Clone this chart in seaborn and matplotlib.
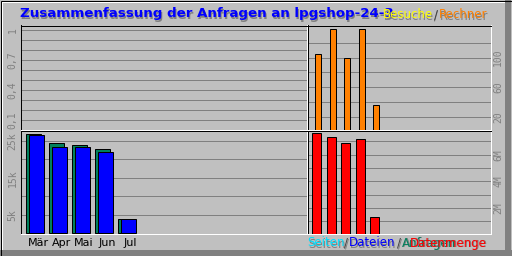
import numpy as np
import pandas as pd
import seaborn as sns
import matplotlib.pyplot as plt
from matplotlib.patches import Rectangle

# monthly summary values
months = ['Mär', 'Apr', 'Mai', 'Jun', 'Jul']
hits = [26970, 24460, 23920, 22840, 3920]           # Anfragen
files = [26620, 23380, 23380, 22030, 3920]          # Dateien
sites = [105, 139, 100, 139, 36]                    # Rechner
kbytes = [7600000, 7370000, 6850000, 7150000, 1370000]  # Datenmenge

# axis ticks (gridlines) and the labels that are shown
ul_ticks = [0.1, 0.2, 0.3, 0.4, 0.5, 0.6, 0.7, 0.8, 0.9, 1.0]
ul_labels = ['0,1', '', '', '0,4', '', '', '0,7', '', '', '1']
ur_ticks = [20, 40, 60, 80, 100, 120]
ur_labels = ['20', '', '60', '', '100', '']
ll_ticks = [5000, 10000, 15000, 20000, 25000]
ll_labels = ['5k', '', '15k', '', '25k']
lr_ticks = [1e6, 2e6, 3e6, 4e6, 5e6, 6e6, 7e6]
lr_labels = ['', '2M', '', '4M', '', '6M', '']

c_hit, c_file, c_page = '#00805c', '#0000ff', '#00e0ff'
c_site, c_visit, c_kb = '#ff8000', '#ffff00', '#ff0000'
bg_grey, dk_grey = '#c0c0c0', '#808080'
px = 0.72  # one pixel in points at dpi 100

fig = plt.figure(figsize=(5.12, 2.56), dpi=100)
fig.patch.set_facecolor(bg_grey)

# frame in pixel coordinates
bg = fig.add_axes([0, 0, 1, 1])
bg.set_xlim(0, 512)
bg.set_ylim(256, 0)
bg.axis('off')
bg.add_patch(Rectangle((505, 0), 6, 256, fc=dk_grey, ec='none'))
bg.add_patch(Rectangle((0, 250), 512, 6, fc=dk_grey, ec='none'))
bg.add_patch(Rectangle((1, 1), 2, 249, fc='white', ec='none'))
bg.add_patch(Rectangle((1, 1), 504, 2, fc='white', ec='none'))
bg.add_patch(Rectangle((0.5, 0.5), 511, 255, fill=False, ec='black', lw=px))


def panel(x0, y0, x1, y1):
    ax = fig.add_axes([x0 / 512, 1 - y1 / 256, (x1 - x0) / 512, (y1 - y0) / 256])
    ax.set_facecolor(bg_grey)
    for s in ['top', 'left']:
        ax.spines[s].set_color('black')
    for s in ['bottom', 'right']:
        ax.spines[s].set_color('white')
    for s in ax.spines.values():
        s.set_linewidth(px)
    ax.grid(axis='y', color=dk_grey, lw=px)
    ax.grid(axis='x', visible=False)
    ax.set_axisbelow(True)
    ax.tick_params(length=0)
    return ax


def yticks(ax, ticks, labels, right=False):
    if right:
        ax.yaxis.tick_right()
    ax.set_yticks(ticks)
    ax.set_yticklabels(labels, rotation=90, fontsize=7, color=dk_grey,
                       family='DejaVu Sans Mono', va='center')
    ax.tick_params(axis='y', length=0, pad=2)


idx = np.arange(len(months))
df = pd.DataFrame({'idx': idx, 'idx_f': idx + 0.13, 'hits': hits,
                   'files': files, 'sites': sites, 'kbytes': kbytes})
bar_kw = dict(native_scale=True, orient='x', saturation=1, edgecolor='black',
              linewidth=px, errorbar=None)

# upper left: empty
ax_ul = panel(20.5, 25.5, 306.5, 129.5)
ax_ul.set_ylim(0.0099, 1.0426)
ax_ul.set_xlim(0, 1)
ax_ul.set_xticks([])
yticks(ax_ul, ul_ticks, ul_labels)

# upper right: Rechner
ax_ur = panel(307.5, 25.5, 490.5, 129.5)
sns.barplot(data=df, x='idx', y='sites', color=c_site, width=0.414, ax=ax_ur, **bar_kw)
ax_ur.set_xlim(-0.745, 11.875)
ax_ur.set_ylim(2.84, 143.4)
ax_ur.set_xticks([])
ax_ur.set_xlabel('')
ax_ur.set_ylabel('')
yticks(ax_ur, ur_ticks, ur_labels, right=True)

# lower left: Anfragen / Dateien
ax_ll = panel(20.5, 130.5, 306.5, 233.5)
sns.barplot(data=df, x='idx', y='hits', color=c_hit, width=0.637, ax=ax_ll, **bar_kw)
sns.barplot(data=df, x='idx_f', y='files', color=c_file, width=0.637, ax=ax_ll, **bar_kw)
ax_ll.set_xlim(-0.557, 11.84)
ax_ll.set_ylim(-54, 27784)
ax_ll.set_xticks(idx + 0.2, months)
ax_ll.tick_params(axis='x', length=0, pad=3, labelsize=8, labelcolor='black')
ax_ll.set_xlabel('')
ax_ll.set_ylabel('')
yticks(ax_ll, ll_ticks, ll_labels)

# lower right: Datenmenge
ax_lr = panel(307.5, 130.5, 490.5, 233.5)
sns.barplot(data=df, x='idx', y='kbytes', color=c_kb, width=0.62, ax=ax_lr, **bar_kw)
ax_lr.set_xlim(-0.641, 11.98)
ax_lr.set_ylim(0.0975e6, 7.824e6)
ax_lr.set_xticks([])
ax_lr.set_xlabel('')
ax_lr.set_ylabel('')
yticks(ax_lr, lr_ticks, lr_labels, right=True)


def label(x, y, s, color, **kw):
    bg.text(x + 1, y + 1, s, color=dk_grey, va='center', ha='left', **kw)
    bg.text(x, y, s, color=color, va='center', ha='left', **kw)


label(20, 14, 'Zusammenfassung der Anfragen an lpgshop-24-3', c_file,
      fontsize=9.6, fontweight='bold')
label(383, 15, 'Besuche', c_visit, fontsize=8.5)
label(433.5, 15, '/', '#404040', fontsize=8.5)
label(438.5, 15, 'Rechner', c_site, fontsize=8.5)

label(307, 243, 'Seiten', c_page, fontsize=8.5)
label(344, 243, '/', '#404040', fontsize=8.5)
label(349, 243, 'Dateien', c_file, fontsize=8.5)
label(397, 243, '/', '#404040', fontsize=8.5)
label(402, 243, 'Anfragen', c_hit, fontsize=8.5)
label(410, 243, 'Datenmenge', c_kb, fontsize=8.5)

fig.savefig('out.png', dpi=100, facecolor=bg_grey)
